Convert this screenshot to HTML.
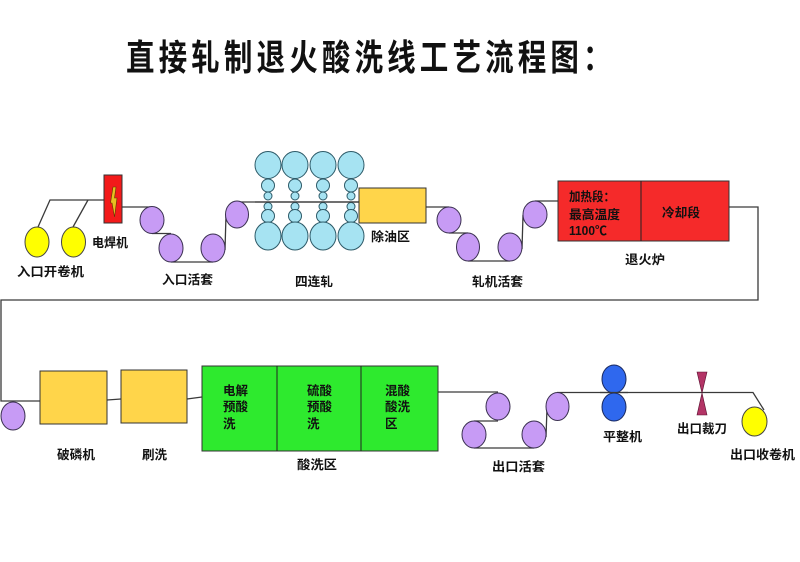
<!DOCTYPE html>
<html><head><meta charset="utf-8"><style>
html,body{margin:0;padding:0;background:#fff;width:800px;height:562px;overflow:hidden}
svg{display:block}
text{font-family:"Liberation Sans","Noto Sans CJK SC","WenQuanYi Zen Hei",sans-serif;font-weight:bold;fill:#111}
</style></head><body>
<svg width="800" height="562" viewBox="0 0 800 562" xmlns="http://www.w3.org/2000/svg">
<rect width="800" height="562" fill="#fff"/>
<!-- Title -->
<text transform="translate(126,58) scale(0.92,1.15)" x="0" y="0" font-size="31" letter-spacing="4.5" dominant-baseline="central">直接轧制退火酸洗线工艺流程图：</text>

<g fill="none" stroke="#3a3a3a" stroke-width="1.3">
<!-- uncoiler lines -->
<polyline points="38,227 50,200 104,200"/>
<line x1="73" y1="227" x2="88" y2="200"/>
<!-- welder to entry looper -->
<line x1="122" y1="207" x2="152" y2="207"/>
<line x1="152" y1="233.5" x2="171" y2="233.5"/>
<line x1="171" y1="262" x2="213" y2="262"/>
<line x1="225" y1="250" x2="226" y2="215"/>
<line x1="237" y1="202" x2="362" y2="202"/>
<!-- oil box to mill looper -->
<line x1="426" y1="207" x2="449" y2="207"/>
<line x1="449" y1="233" x2="468" y2="233"/>
<line x1="468" y1="261" x2="510" y2="261"/>
<line x1="522" y1="249" x2="523" y2="215"/>
<line x1="535" y1="201" x2="558" y2="201"/>
<!-- furnace loop around -->
<polyline points="729,207 758,207 758,300 1,300 1,401 40,401"/>
<line x1="107" y1="400" x2="121" y2="399"/>
<line x1="187" y1="399" x2="202" y2="397"/>
<!-- exit -->
<line x1="438" y1="392" x2="498" y2="392"/>
<line x1="474" y1="421" x2="498" y2="421"/>
<line x1="474" y1="448" x2="534" y2="448"/>
<line x1="546" y1="437" x2="547" y2="408"/>
<polyline points="557,392.5 753,392.5 764,410"/>
</g>

<!-- uncoilers -->
<ellipse cx="37" cy="242" rx="12" ry="15" fill="#FFFF00" stroke="#444" stroke-width="1"/>
<ellipse cx="73.5" cy="242" rx="12" ry="15" fill="#FFFF00" stroke="#444" stroke-width="1"/>
<!-- welder -->
<rect x="104" y="175" width="18" height="48" fill="#F31A1A" stroke="#333" stroke-width="1"/>
<polygon points="113,187 116,187 114.5,198 117,198 114.5,217 112,203 110.5,203" fill="#E8C020" stroke="#5a3a00" stroke-width="0.6"/>

<!-- entry looper -->
<g fill="#C79BF5" stroke="#3a3050" stroke-width="1">
<ellipse cx="152" cy="220" rx="12" ry="13.5"/>
<ellipse cx="171" cy="248" rx="12" ry="14"/>
<ellipse cx="213" cy="248" rx="12" ry="14"/>
<ellipse cx="237" cy="214.5" rx="11.5" ry="13.5"/>
</g>

<!-- 4-stand mill -->
<g fill="#A6E3F2" stroke="#2d5a68" stroke-width="1">
<g id="stand">
<ellipse cx="268" cy="165" rx="13" ry="13.5"/>
<ellipse cx="268" cy="185.5" rx="6.5" ry="6.5"/>
<ellipse cx="268" cy="196" rx="4" ry="4"/>
<ellipse cx="268" cy="206.5" rx="4" ry="4"/>
<ellipse cx="268" cy="216" rx="6.5" ry="6.5"/>
<ellipse cx="268" cy="236" rx="13" ry="14"/>
</g>
<use href="#stand" x="27"/>
<use href="#stand" x="55"/>
<use href="#stand" x="83"/>
</g>
<line x1="255" y1="202" x2="362" y2="202" stroke="#3a3a3a" stroke-width="1.3"/>

<!-- oil removal -->
<rect x="359" y="188" width="67" height="35" fill="#FFD54A" stroke="#333" stroke-width="1"/>

<!-- mill looper -->
<g fill="#C79BF5" stroke="#3a3050" stroke-width="1">
<ellipse cx="449" cy="220" rx="12" ry="13"/>
<ellipse cx="468" cy="247" rx="11.5" ry="14"/>
<ellipse cx="510" cy="247" rx="12" ry="14"/>
<ellipse cx="535" cy="214.5" rx="12" ry="13.5"/>
</g>

<!-- furnace -->
<rect x="558" y="181" width="171" height="60" fill="#F52A2A" stroke="#333" stroke-width="1"/>
<line x1="641" y1="181" x2="641" y2="241" stroke="#222" stroke-width="1"/>

<!-- lower left -->
<ellipse cx="13" cy="416" rx="12" ry="14" fill="#C79BF5" stroke="#3a3050" stroke-width="1"/>
<rect x="40" y="371" width="67" height="53" fill="#FFD54A" stroke="#333" stroke-width="1"/>
<rect x="121" y="370" width="66" height="53" fill="#FFD54A" stroke="#333" stroke-width="1"/>

<!-- pickling -->
<rect x="202" y="366" width="236" height="85" fill="#2EEA2E" stroke="#333" stroke-width="1"/>
<line x1="277" y1="366" x2="277" y2="451" stroke="#222" stroke-width="1"/>
<line x1="361" y1="366" x2="361" y2="451" stroke="#222" stroke-width="1"/>

<!-- exit looper -->
<g fill="#C79BF5" stroke="#3a3050" stroke-width="1">
<ellipse cx="498" cy="406.5" rx="12" ry="13.5"/>
<ellipse cx="474" cy="434.5" rx="12" ry="13.5"/>
<ellipse cx="534" cy="434.5" rx="12" ry="13.5"/>
<ellipse cx="557.5" cy="406.5" rx="11.5" ry="14"/>
</g>

<!-- skin pass -->
<ellipse cx="614" cy="379" rx="12" ry="14" fill="#2F68EE" stroke="#1a2a60" stroke-width="1"/>
<ellipse cx="614" cy="407" rx="12" ry="14" fill="#2F68EE" stroke="#1a2a60" stroke-width="1"/>
<line x1="600" y1="392.5" x2="628" y2="392.5" stroke="#3a3a3a" stroke-width="1.3"/>

<!-- cutter -->
<polygon points="697,372 707,372 702,393 707,415 697,415 702,393" fill="#B33466" stroke="#5a1030" stroke-width="0.6"/>

<!-- exit coiler -->
<ellipse cx="754.5" cy="421.5" rx="12.5" ry="14.5" fill="#FFFF00" stroke="#444" stroke-width="1"/>

<!-- labels -->
<g font-size="12.5" dominant-baseline="central">
<text x="17" y="272" textLength="67" lengthAdjust="spacingAndGlyphs">入口开卷机</text>
<text x="92" y="243" textLength="36" lengthAdjust="spacingAndGlyphs">电焊机</text>
<text x="162" y="280" textLength="51" lengthAdjust="spacingAndGlyphs">入口活套</text>
<text x="295" y="282" textLength="38" lengthAdjust="spacingAndGlyphs">四连轧</text>
<text x="371" y="237" textLength="39" lengthAdjust="spacingAndGlyphs">除油区</text>
<text x="472" y="282" textLength="51" lengthAdjust="spacingAndGlyphs">轧机活套</text>
<text x="625" y="260" textLength="40" lengthAdjust="spacingAndGlyphs">退火炉</text>
<text x="569" y="197" textLength="46" lengthAdjust="spacingAndGlyphs">加热段：</text>
<text x="569" y="215" textLength="51" lengthAdjust="spacingAndGlyphs">最高温度</text>
<text x="569" y="231" textLength="38" lengthAdjust="spacingAndGlyphs">1100℃</text>
<text x="662" y="213" textLength="38" lengthAdjust="spacingAndGlyphs">冷却段</text>
<text x="57" y="455" textLength="38" lengthAdjust="spacingAndGlyphs">破磷机</text>
<text x="142" y="455" textLength="25" lengthAdjust="spacingAndGlyphs">刷洗</text>
<text x="297" y="465" textLength="40" lengthAdjust="spacingAndGlyphs">酸洗区</text>
<text x="492" y="467" textLength="53" lengthAdjust="spacingAndGlyphs">出口活套</text>
<text x="603" y="437" textLength="39" lengthAdjust="spacingAndGlyphs">平整机</text>
<text x="677" y="429" textLength="50" lengthAdjust="spacingAndGlyphs">出口裁刀</text>
<text x="730" y="455" textLength="65" lengthAdjust="spacingAndGlyphs">出口收卷机</text>
<!-- pickling texts -->
<text x="223" y="391" textLength="25" lengthAdjust="spacingAndGlyphs">电解</text>
<text x="223" y="407" textLength="25" lengthAdjust="spacingAndGlyphs">预酸</text>
<text x="223" y="424">洗</text>
<text x="307" y="391" textLength="25" lengthAdjust="spacingAndGlyphs">硫酸</text>
<text x="307" y="407" textLength="25" lengthAdjust="spacingAndGlyphs">预酸</text>
<text x="307" y="424">洗</text>
<text x="385" y="391" textLength="25" lengthAdjust="spacingAndGlyphs">混酸</text>
<text x="385" y="407" textLength="25" lengthAdjust="spacingAndGlyphs">酸洗</text>
<text x="385" y="424">区</text>
</g>
</svg>
</body></html>
